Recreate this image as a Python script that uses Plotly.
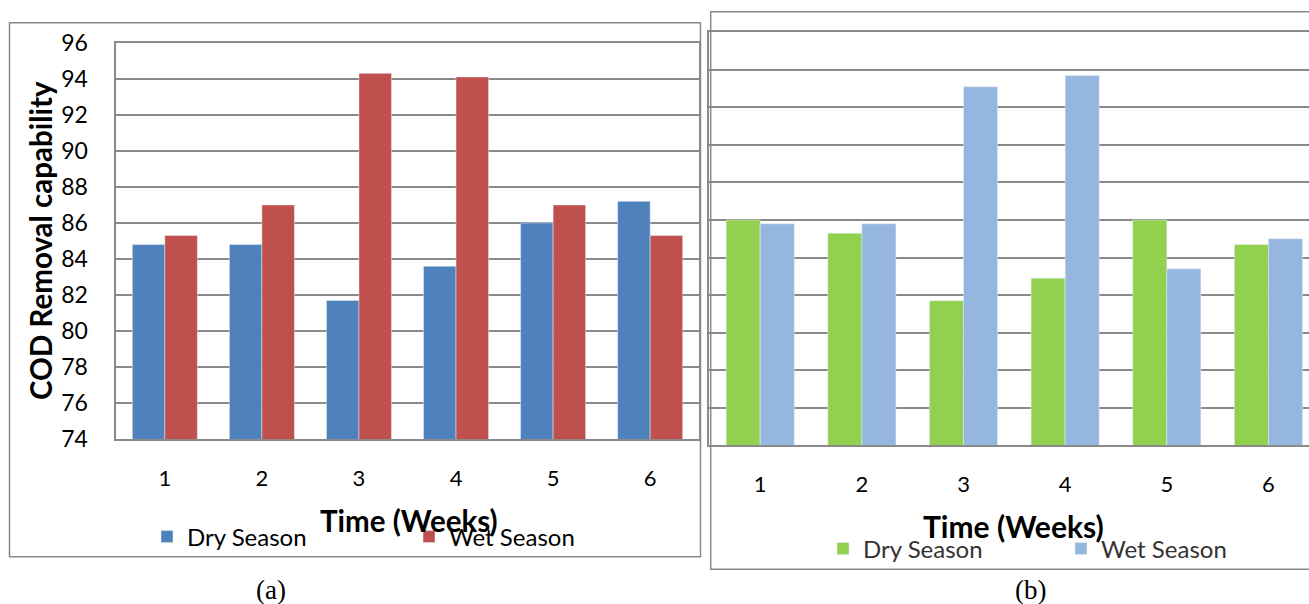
import plotly.graph_objects as go

# Weekly COD removal capability, dry vs wet season
weeks = [1, 2, 3, 4, 5, 6]
week_labels = ["1", "2", "3", "4", "5", "6"]

# panel (a)
dry_a = [84.8, 84.8, 81.7, 83.6, 86.0, 87.2]
wet_a = [85.3, 87.0, 94.3, 94.1, 87.0, 85.3]

# panel (b)
dry_b = [86.0, 85.3, 81.7, 82.9, 86.0, 84.7]
wet_b = [85.8, 85.8, 93.1, 93.7, 83.4, 85.0]

y_ticks = [74, 76, 78, 80, 82, 84, 86, 88, 90, 92, 94, 96]

W, H = 1309, 604
FONT = "Lato"
GRID = "#8a8a8a"


def fx(p):
    return p / W


def fy(p):
    return 1 - p / H


fig = go.Figure()

fig.add_trace(go.Bar(x=weeks, y=dry_a, name="Dry Season", marker_color="#4F81BD",
                     xaxis="x", yaxis="y", legend="legend"))
fig.add_trace(go.Bar(x=weeks, y=wet_a, name="Wet Season", marker_color="#C0504D",
                     xaxis="x", yaxis="y", legend="legend"))
fig.add_trace(go.Bar(x=weeks, y=dry_b, name="Dry Season", marker_color="#92D050",
                     xaxis="x2", yaxis="y2", legend="legend2"))
fig.add_trace(go.Bar(x=weeks, y=wet_b, name="Wet Season", marker_color="#95B7DF",
                     xaxis="x2", yaxis="y2", legend="legend2"))

xcommon = dict(
    tickmode="array", tickvals=weeks, ticktext=week_labels,
    showgrid=False, showline=True, linecolor=GRID, linewidth=1.5,
    ticks="", tickfont=dict(family=FONT, size=22, color="#000"),
    ticklabelstandoff=19, zeroline=False, automargin=False,
)

fig.update_layout(
    width=W, height=H,
    margin=dict(l=0, r=0, t=0, b=0, autoexpand=False),
    paper_bgcolor="white", plot_bgcolor="white",
    barmode="group", bargap=0.33, bargroupgap=0,
    xaxis=dict(domain=[fx(116.3), fx(698.7)], range=[0.5, 6.5], anchor="y",
               mirror=True, **xcommon),
    yaxis=dict(domain=[fy(439.3), fy(42.7)], range=[74, 96], anchor="x",
               tickmode="array", tickvals=y_ticks,
               showgrid=True, gridcolor=GRID, gridwidth=1.5,
               showline=True, linecolor=GRID, linewidth=1.5, mirror=True,
               ticks="", tickfont=dict(family=FONT, size=23, color="#000"),
               ticklabelstandoff=22, zeroline=False, automargin=False),
    xaxis2=dict(domain=[fx(709.4), 1.0], range=[0.5, 6.399], anchor="y2",
                mirror=True, **xcommon),
    yaxis2=dict(domain=[fy(445.3), fy(32.3)], range=[74, 96], anchor="x2",
                tickmode="array", tickvals=y_ticks, showticklabels=False,
                showgrid=True, gridcolor=GRID, gridwidth=1.5,
                showline=True, linecolor=GRID, linewidth=1.5,
                ticks="", zeroline=False, automargin=False),
    legend=dict(orientation="h", x=fx(147), y=fy(537), xanchor="left", yanchor="middle",
                entrywidth=217, entrywidthmode="pixels",
                font=dict(family=FONT, size=24, color="#000"),
                bgcolor="rgba(0,0,0,0)", traceorder="normal"),
    legend2=dict(orientation="h", x=fx(823), y=fy(549), xanchor="left", yanchor="middle",
                 entrywidth=193, entrywidthmode="pixels",
                 font=dict(family=FONT, size=24, color="#333"),
                 bgcolor="rgba(0,0,0,0)", traceorder="normal"),
    showlegend=True,
)

# outer frames of the two chart panels
fig.add_shape(type="rect", xref="paper", yref="paper",
              x0=fx(9.5), x1=fx(700.5), y0=fy(556.7), y1=fy(22.7),
              line=dict(color=GRID, width=1.5), layer="below")
fig.add_shape(type="rect", xref="paper", yref="paper",
              x0=fx(710.7), x1=fx(1320), y0=fy(569.3), y1=fy(11.7),
              line=dict(color=GRID, width=1.5), layer="below")

# axis titles
fig.add_annotation(text="<b>COD Removal capability</b>", xref="paper", yref="paper",
                   x=fx(40), y=fy(241), xanchor="center", yanchor="middle",
                   textangle=-90, showarrow=False,
                   font=dict(family=FONT, size=29.5, color="#000"))
fig.add_annotation(text="<b>Time (Weeks)</b>", xref="paper", yref="paper",
                   x=fx(409), y=fy(520), xanchor="center", yanchor="middle",
                   showarrow=False,
                   font=dict(family=FONT, size=29.5, color="#000"))
fig.add_annotation(text="<b>Time (Weeks)</b>", xref="paper", yref="paper",
                   x=fx(1013.5), y=fy(526), xanchor="center", yanchor="middle",
                   showarrow=False,
                   font=dict(family=FONT, size=30, color="#000"))

# panel captions
fig.add_annotation(text="(a)", xref="paper", yref="paper", x=fx(271), y=fy(590),
                   xanchor="center", yanchor="middle", showarrow=False,
                   font=dict(family="Liberation Serif", size=27, color="#000"))
fig.add_annotation(text="(b)", xref="paper", yref="paper", x=fx(1030), y=fy(590),
                   xanchor="center", yanchor="middle", showarrow=False,
                   font=dict(family="Liberation Serif", size=27, color="#000"))

fig.write_html("out.html")
